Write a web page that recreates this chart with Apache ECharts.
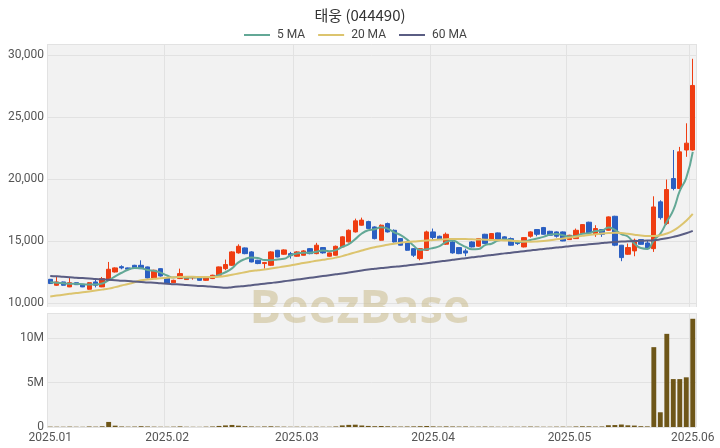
<!DOCTYPE html>
<html><head><meta charset="utf-8">
<script src="https://cdn.jsdelivr.net/npm/echarts/dist/echarts.min.js"></script>
<style>html,body{margin:0;padding:0;background:#fff}#c{width:720px;height:448px}</style>
</head><body><div id="c"></div>
<script>
const title = '태웅 (044490)';
const dates = [
'2025-01-02','2025-01-03','2025-01-06','2025-01-07','2025-01-08','2025-01-09','2025-01-10','2025-01-13','2025-01-14','2025-01-15',
'2025-01-16','2025-01-17','2025-01-20','2025-01-21','2025-01-22','2025-01-23','2025-01-24','2025-01-31',
'2025-02-03','2025-02-04','2025-02-05','2025-02-06','2025-02-07','2025-02-10','2025-02-11','2025-02-12','2025-02-13','2025-02-14',
'2025-02-17','2025-02-18','2025-02-19','2025-02-20','2025-02-21','2025-02-24','2025-02-25','2025-02-26','2025-02-27','2025-02-28',
'2025-03-03','2025-03-04','2025-03-05','2025-03-06','2025-03-07','2025-03-10','2025-03-11','2025-03-12','2025-03-13','2025-03-14',
'2025-03-17','2025-03-18','2025-03-19','2025-03-20','2025-03-21','2025-03-24','2025-03-25','2025-03-26','2025-03-27','2025-03-28','2025-03-31',
'2025-04-01','2025-04-02','2025-04-03','2025-04-04','2025-04-07','2025-04-08','2025-04-09','2025-04-10','2025-04-11','2025-04-14',
'2025-04-15','2025-04-16','2025-04-17','2025-04-18','2025-04-21','2025-04-22','2025-04-23','2025-04-24','2025-04-25','2025-04-28','2025-04-29',
'2025-05-02','2025-05-07','2025-05-08','2025-05-09','2025-05-12','2025-05-13','2025-05-14','2025-05-15','2025-05-16','2025-05-19',
'2025-05-20','2025-05-21','2025-05-22','2025-05-23','2025-05-26','2025-05-27','2025-05-28','2025-05-29','2025-05-30',
'2025-06-02'];
const opens = [
11930,11450,11720,11320,11660,11530,11130,11720,11320,11850,
12520,12950,12850,13060,13060,12930,12040,12790,12040,11660,
11990,11910,12050,12070,11850,11990,12260,12790,13060,14060,
14460,14140,13470,13200,13060,14270,13950,14000,13790,13870,
14400,14000,14490,13790,13870,14540,14950,15750,16290,16580,
16150,15080,16420,15880,15210,14940,14400,13600,14270,15750,
15400,14760,14940,14490,14220,14940,14600,15560,15080,15670,
15350,15210,14940,14540,15400,15940,16100,15800,15750,15750,
15130,15210,15615,16530,15560,15940,15880,17010,14680,13950,
14220,15130,14860,14400,18170,16420,20050,19250,22350,22350];
const closes = [
11590,11720,11450,11660,11500,11320,11660,11450,11990,12740,
12850,12850,12750,12850,12790,12040,12660,12200,11590,11850,
12390,12120,12120,11850,12070,12260,12930,13120,14140,14590,
14000,13330,13200,13280,14140,13730,14300,13840,14140,14220,
14000,14680,14060,14060,14590,15350,15880,16640,16700,16030,
15210,16290,15750,14940,14680,14270,13870,14400,15750,15300,
15130,15560,14060,14000,14050,14540,15210,14810,15615,15080,
15130,14680,14810,15290,15750,15560,15560,15480,15400,15020,
15480,15880,16340,15670,16020,15560,16960,14680,13680,14490,
15080,14750,14400,17760,16900,19160,19250,22200,22900,27550];
const lows = [
11550,11400,11420,11300,11480,11300,11100,11280,11300,11800,
12480,12740,12720,12820,12760,12000,12000,12150,11560,11640,
11950,11880,11900,11820,11800,11950,12200,12660,13000,14000,
13950,13300,13150,12790,13000,13700,13900,13600,13750,13850,
13950,13950,14000,13750,13850,14500,14900,15700,16250,16000,
15150,15050,15700,14900,14650,14230,13730,13460,14230,15080,
15100,14700,14000,13960,13790,14500,14560,14780,15050,15050,
15100,14650,14700,14500,15290,15400,15530,15450,15290,15000,
15100,15180,15580,15640,15350,15350,15850,14600,13390,13900,
13790,14720,14330,14140,16740,16300,19100,19200,21800,22300];
const highs = [
11960,12120,11750,12120,11700,11560,11700,11900,12120,13330,
12900,13060,12880,13100,13460,12960,12700,12820,12060,11900,
12790,12150,12150,12100,12100,12300,12960,13520,14200,14750,
14500,14200,13500,13330,14200,14300,14350,14140,14200,14280,
14450,14870,14520,14100,14650,15400,15950,16820,16900,16650,
16200,16350,16500,15950,15250,15000,14450,14450,15850,16020,
15450,15700,15000,14530,14400,15000,15260,15600,15650,15700,
15400,15300,14980,15330,15800,15980,16150,15840,15790,15790,
15520,16020,16380,16570,16290,15960,17000,17050,14700,14810,
15210,15160,15080,18620,18300,19970,22350,22600,24500,29700];
const volumes = [
40000,35000,30000,45000,30000,25000,60000,40000,80000,570000,
150000,60000,40000,50000,90000,60000,40000,30000,25000,40000,
70000,30000,25000,20000,40000,60000,120000,180000,230000,150000,
90000,60000,40000,60000,80000,50000,40000,30000,35000,40000,
30000,40000,30000,30000,60000,180000,240000,260000,170000,120000,
90000,110000,80000,60000,50000,60000,70000,90000,110000,70000,
50000,70000,60000,50000,60000,40000,40000,50000,40000,30000,
30000,40000,30000,40000,50000,40000,30000,30000,40000,40000,
30000,60000,80000,70000,50000,60000,200000,220000,280000,190000,
160000,90000,70000,9000000,1660000,10500000,5400000,5400000,5600000,12200000];
const ma5 = [
11700,11660,11620,11580,11570,11540,11520,11510,11590,11860,
12160,12460,12700,12850,12830,12680,12620,12470,12240,12070,
12140,12060,12090,12080,12090,12120,12290,12500,12810,13300,
13560,13680,13650,13480,13470,13530,13580,13850,14010,14070,
14070,14160,14260,14200,14280,14540,14770,15170,15620,15880,
15960,16130,16000,15720,15490,15130,14630,14300,14350,14460,
14600,14940,15060,14810,14540,14350,14370,14690,14800,15050,
15140,15090,14930,14980,15100,15220,15350,15530,15590,15480,
15380,15420,15600,15640,15820,15860,16100,15910,15570,15380,
14810,14450,14380,15080,15600,16560,17500,19050,20100,22200];
const ma20 = [
10550,10620,10690,10760,10830,10880,10950,11030,11100,11180,
11300,11430,11560,11700,11850,11920,11970,12010,12050,12090,
12120,12130,12130,12120,12110,12120,12140,12200,12300,12400,
12500,12600,12660,12720,12800,12880,12960,13050,13150,13250,
13330,13420,13500,13580,13680,13800,13950,14100,14250,14400,
14520,14620,14720,14800,14870,14930,14980,15020,15060,15100,
15130,15160,15180,15180,15170,15150,15140,15120,15100,15080,
15060,15040,15010,14970,14960,14980,15020,15080,15150,15220,
15290,15360,15430,15500,15560,15620,15660,15680,15660,15600,
15530,15460,15420,15420,15480,15620,15850,16200,16650,17200];
const ma60 = [
12200,12170,12130,12100,12060,12030,12000,11960,11930,11890,
11860,11820,11790,11750,11720,11680,11650,11610,11580,11540,
11510,11470,11440,11400,11370,11330,11290,11250,11300,11350,
11400,11460,11520,11580,11640,11700,11770,11840,11910,11980,
12050,12120,12190,12260,12330,12400,12480,12560,12640,12720,
12780,12840,12890,12940,12990,13050,13110,13170,13230,13300,
13370,13430,13500,13570,13630,13700,13760,13830,13890,13950,
14020,14080,14140,14200,14260,14320,14370,14430,14490,14540,
14600,14650,14700,14750,14800,14850,14900,14940,14970,14990,
15010,15030,15050,15080,15150,15240,15350,15480,15640,15830];

const candles = dates.map((d, i) => [opens[i], closes[i], lows[i], highs[i]]);
const isMonthStart = (i) => i === 0 || dates[i - 1].slice(0, 7) !== dates[i].slice(0, 7);
const UP = '#ef3d12', DOWN = '#2b5fc2';
const lab = {color: '#555', fontSize: 12, fontFamily: 'Roboto, "Noto Sans", sans-serif'};

const chart = echarts.init(document.getElementById('c'), null, {renderer: 'canvas'});
chart.setOption({
  animation: false,
  backgroundColor: '#ffffff',
  title: {text: title, left: 'center', top: 3,
    textStyle: {fontSize: 15, fontWeight: 'normal', color: '#333', fontFamily: '"Noto Sans CJK KR", sans-serif'}},
  legend: {top: 24, left: 239, icon: 'rect', itemWidth: 26, itemHeight: 2, itemGap: 13,
    textStyle: {fontSize: 12, color: '#444', fontFamily: 'Roboto, sans-serif', padding: [0, 0, 0, 2]},
    data: ['5 MA', '20 MA', '60 MA']},
  grid: [
    {left: 47, right: 24, top: 44, height: 263, show: true, backgroundColor: '#f2f2f2', borderWidth: 0},
    {left: 47, right: 24, top: 313, height: 114, show: true, backgroundColor: '#f2f2f2', borderWidth: 0}
  ],
  xAxis: [
    {type: 'category', gridIndex: 0, data: dates, boundaryGap: true,
     axisLine: {show: false}, axisTick: {show: false}, axisLabel: {show: false},
     splitLine: {show: true, interval: (i) => isMonthStart(i), lineStyle: {color: '#e2e2e2', width: 1}}},
    {type: 'category', gridIndex: 1, data: dates, boundaryGap: true,
     axisLine: {show: false}, axisTick: {show: false},
     axisLabel: Object.assign({}, lab, {fontSize: 12, margin: 5, interval: (i) => isMonthStart(i),
        formatter: (v) => v.slice(0, 4) + '.' + v.slice(5, 7)}),
     splitLine: {show: true, interval: (i) => isMonthStart(i), lineStyle: {color: '#e2e2e2', width: 1}}}
  ],
  yAxis: [
    {type: 'value', gridIndex: 0, min: 9700, max: 30890, splitNumber: 5, scale: true,
     axisLine: {show: false}, axisTick: {show: false},
     axisLabel: Object.assign({}, lab, {margin: 3, showMinLabel: false, showMaxLabel: false,
        formatter: (v) => v.toLocaleString('en-US')}),
     splitLine: {lineStyle: {color: '#e2e2e2', width: 1}}},
    {type: 'value', gridIndex: 1, min: 0, max: 12850000, interval: 5000000,
     axisLine: {show: false}, axisTick: {show: false},
     axisLabel: Object.assign({}, lab, {margin: 3, showMaxLabel: false,
        formatter: (v) => v === 0 ? '0' : (v / 1000000) + 'M'}),
     splitLine: {lineStyle: {color: '#e2e2e2', width: 1}}}
  ],
  graphic: [
    {type: 'text', left: 'center', top: 286, z: 1, silent: true,
     style: {text: 'BeezBase', fontSize: 47, fontWeight: 'bold', fontFamily: '"Open Sans", "Noto Sans", sans-serif',
       fill: 'rgba(205,192,148,0.6)'}},
    {type: 'rect', z: 1, silent: true, shape: {x: 0, y: 307, width: 720, height: 6}, style: {fill: '#ffffff'}}
  ],
  series: [
    {type: 'candlestick', name: 'price', xAxisIndex: 0, yAxisIndex: 0, data: candles, barWidth: '75%',
     itemStyle: {color: UP, color0: DOWN, borderColor: UP, borderColor0: DOWN, borderWidth: 1}},
    {type: 'line', name: '5 MA', xAxisIndex: 0, yAxisIndex: 0, data: ma5, smooth: true, showSymbol: false,
     lineStyle: {width: 2, color: '#63a896'}, itemStyle: {color: '#63a896'}},
    {type: 'line', name: '20 MA', xAxisIndex: 0, yAxisIndex: 0, data: ma20, smooth: true, showSymbol: false,
     lineStyle: {width: 2, color: '#dcc46e'}, itemStyle: {color: '#dcc46e'}},
    {type: 'line', name: '60 MA', xAxisIndex: 0, yAxisIndex: 0, data: ma60, smooth: true, showSymbol: false,
     lineStyle: {width: 2, color: '#5a5d83'}, itemStyle: {color: '#5a5d83'}},
    {type: 'bar', name: 'volume', xAxisIndex: 1, yAxisIndex: 1, data: volumes, barWidth: '75%',
     itemStyle: {color: '#6e5618'}}
  ]
});
</script></body></html>
